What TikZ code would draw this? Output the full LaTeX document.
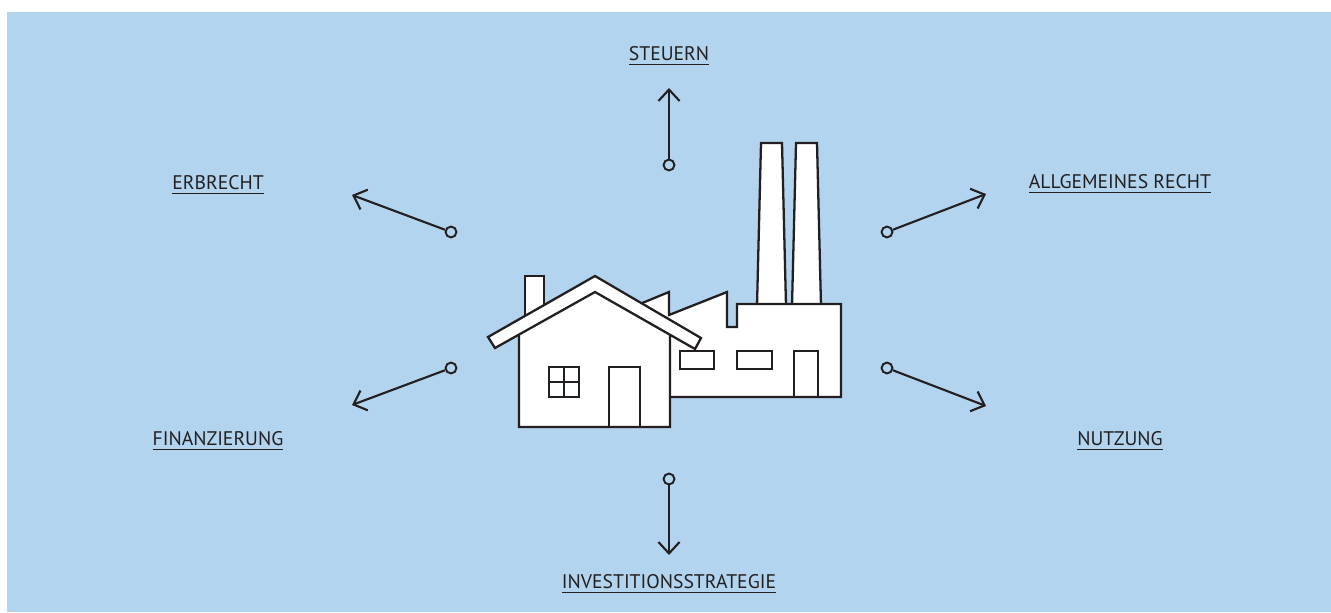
\documentclass[tikz,border=0pt]{standalone}
\usepackage{fontspec}
\setsansfont{PT Sans}
\usetikzlibrary{arrows.meta}
\definecolor{skyblue}{RGB}{178,212,238}
\definecolor{inkgray}{RGB}{35,31,32}
\newcommand{\lined}[1]{\setbox0\hbox{#1}\rlap{\rule[-3.1pt]{\wd0}{0.75pt}}\box0}

\begin{document}
\begin{tikzpicture}[x=0.02cm, y=-0.02cm,
    topic/.style={font=\sffamily\fontsize{11.2}{13}\selectfont, text=inkgray, inner sep=0pt, anchor=base},
    knob/.style={draw=inkgray, circle, line width=1.1pt, fill=skyblue, minimum size=6.2pt, inner sep=0pt},
    link/.style={draw=inkgray, line width=1.2pt, -{Straight Barb[length=6.5pt,width=12pt]}},
    block/.style={draw=inkgray, fill=white, line width=1.3pt, line join=miter},
    opening/.style={draw=inkgray, line width=0.8pt}]

\useasboundingbox (0,0) rectangle (1331,612);
\fill[skyblue] (7,12) rectangle (1331,612);

% labels
\node[topic] (steuern) at (669,60) {\lined{STEUERN}};
\node[topic] (erbrecht) at (218,189) {\lined{ERBRECHT}};
\node[topic] (recht) at (1120,188) {\lined{ALLGEMEINES RECHT}};
\node[topic] (finanz) at (218,445) {\lined{FINANZIERUNG}};
\node[topic] (nutzung) at (1120,445) {\lined{NUTZUNG}};
\node[topic] (invest) at (669,588) {\lined{INVESTITIONSSTRATEGIE}};

% connectors
\node[knob] (k1) at (669,165) {};
\node[knob] (k2) at (451,232) {};
\node[knob] (k3) at (887,232) {};
\node[knob] (k4) at (451,368) {};
\node[knob] (k5) at (887,368) {};
\node[knob] (k6) at (669,479) {};
\coordinate (t1) at (669,88);
\coordinate (t2) at (352,195);
\coordinate (t3) at (986,194);
\coordinate (t4) at (352,405);
\coordinate (t5) at (986,406);
\coordinate (t6) at (669,555);
\foreach \i in {1,...,6}
    \draw[link] (k\i) -- (t\i);

% factory
\filldraw[block] (757,306) -- (761,143) -- (782,143) -- (786,306) -- cycle;
\filldraw[block] (792,306) -- (796,143) -- (817,143) -- (821,306) -- cycle;
\filldraw[block] (630,308) -- (669,292) -- (669,315) -- (727,292) -- (727,327)
    -- (737,327) -- (737,304) -- (841,304) -- (841,397) -- (669,397) -- cycle;
\draw[opening] (680,351) rectangle (714,369);
\draw[opening] (737,351) rectangle (772,369);
\draw[opening] (794,397) -- (794,351) -- (818,351) -- (818,397);

% house
\filldraw[block] (525,322) -- (525,276) -- (544,276) -- (544,322) -- cycle;
\filldraw[block] (519,427) -- (519,327) -- (595,284) -- (670,327) -- (670,427) -- cycle;
\filldraw[block] (488,337) -- (595,276) -- (701,338) -- (695,349) -- (595,292) -- (495,348) -- cycle;
\draw[opening] (549,367) rectangle (579,397);
\draw[opening] (564,367) -- (564,397) (549,382) -- (579,382);
\draw[opening] (609,427) -- (609,367) -- (640,367) -- (640,427);

\end{tikzpicture}
\end{document}
